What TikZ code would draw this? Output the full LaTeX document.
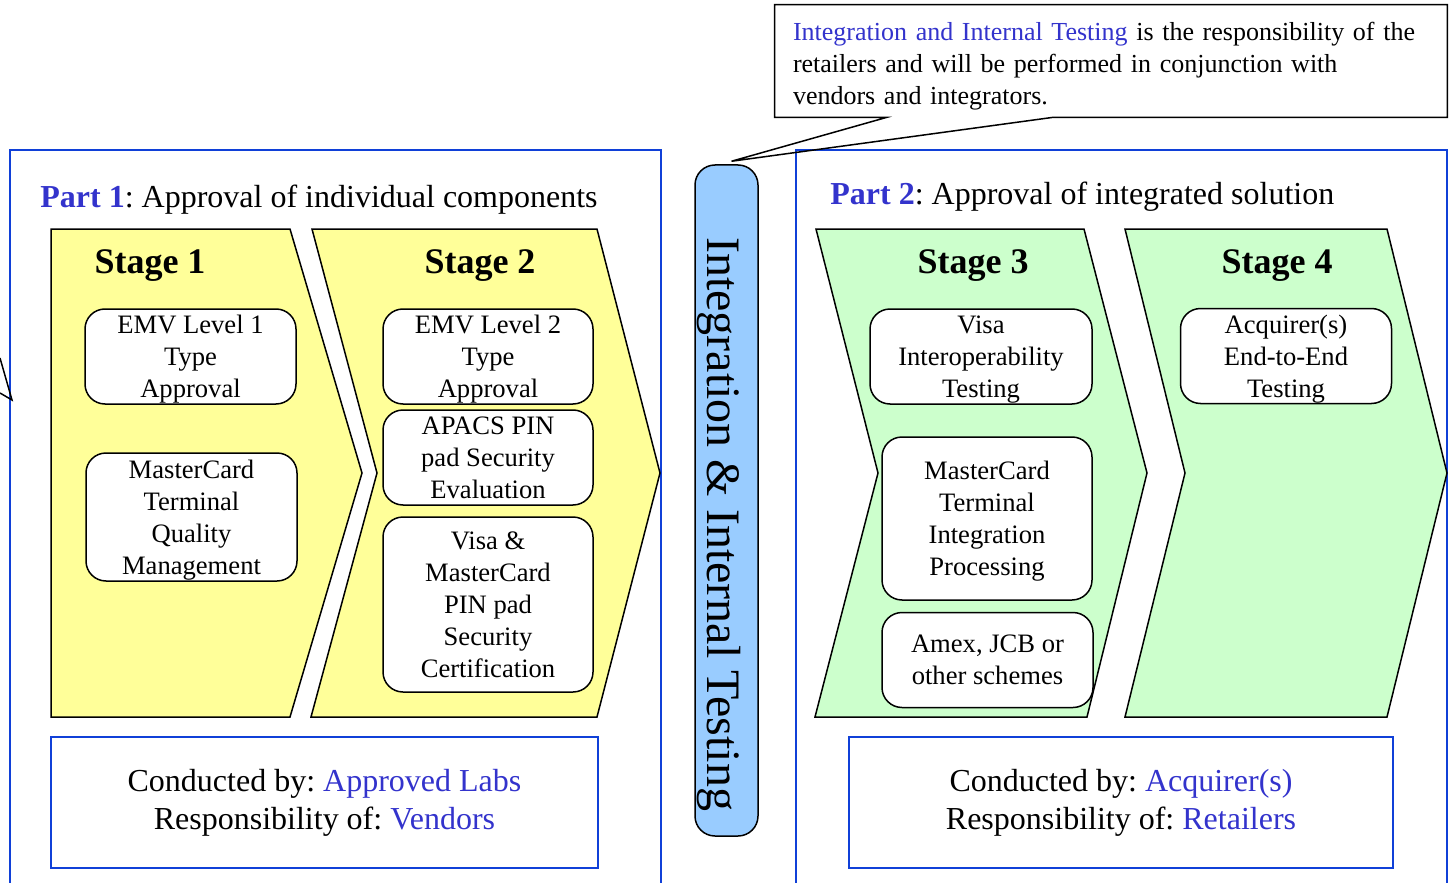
\documentclass[tikz,border=0pt]{standalone}
\usepackage{fontspec}
\setmainfont{Liberation Serif}
\usepackage{tikz}
\usetikzlibrary{positioning, calc}
\frenchspacing
\definecolor{partblue}{RGB}{51,51,204}
\definecolor{boxblue}{RGB}{16,64,216}
\definecolor{paleyellow}{RGB}{255,255,153}
\definecolor{palegreen}{RGB}{204,255,204}
\definecolor{barblue}{RGB}{153,204,255}
\tikzset{
  partbox/.style={draw=boxblue, line width=1pt},
  parttitle/.style={anchor=base west, inner sep=0pt, font=\fontsize{16}{19}\selectfont},
  stagey/.style={draw=black, fill=paleyellow, line width=0.75pt},
  stageg/.style={draw=black, fill=palegreen, line width=0.75pt},
  stagelab/.style={inner sep=0pt, font=\fontsize{18}{21}\selectfont\bfseries},
  comp/.style={draw=black, fill=white, rounded corners=10pt, line width=0.75pt, inner sep=0pt, text depth=0pt, align=center, font=\fontsize{13.3}{16}\selectfont},
  duty/.style={draw=boxblue, line width=1pt, inner sep=0pt, align=center, minimum height=65.5pt, font=\fontsize{16}{19}\selectfont},
  bar/.style={draw=black, fill=barblue, rounded corners=10pt, line width=0.75pt, minimum width=31.5pt, minimum height=335.5pt},
  note/.style={inner sep=0pt, minimum width=336pt, minimum height=56pt, text width=318pt, align=left, font=\fontsize{13}{16}\selectfont},
}
\newcommand{\hl}[1]{\textcolor{partblue}{#1}}

\begin{document}
\begin{tikzpicture}[x=0.5pt, y=-0.5pt, line join=miter]
  \clip (0,0) rectangle (1452,883);

  % ---- the two parts --------------------------------------------------------
  \draw[partbox] (10,150) rectangle (661,900);
  \draw[partbox] (796,150) rectangle (1447,900);
  \node[parttitle] (p1) at (40,207) {\textbf{\hl{Part 1}}: Approval of individual components};
  \node[parttitle] (p2) at (830,205) {\textbf{\hl{Part 2}}: Approval of integrated solution};

  % ---- stage chevrons -------------------------------------------------------
  \draw[stagey] (51,229) -- (290,229) -- (362,473) -- (290,717) -- (51,717) -- cycle;
  \draw[stagey] (312,229) -- (597,229) -- (660,473) -- (597,717) -- (311,717) -- (377,473) -- cycle;
  \draw[stageg] (816,229) -- (1084,229) -- (1147,473) -- (1087,717) -- (815,717) -- (878,473) -- cycle;
  \draw[stageg] (1125,229) -- (1387,229) -- (1447,473) -- (1387,717) -- (1125,717) -- (1185,473) -- cycle;
  \node[stagelab] (s1) at (150,266) {Stage 1};
  \node[stagelab] (s2) at (480,266) {Stage 2};
  \node[stagelab] (s3) at (973,266) {Stage 3};
  \node[stagelab] (s4) at (1277,266) {Stage 4};

  % ---- components -----------------------------------------------------------
  \node[comp, minimum width=105.5pt, minimum height=47.5pt] (emv1) at (190.5,356.5) {EMV Level 1\\Type\\Approval};
  \node[comp, minimum width=105.5pt, minimum height=64pt] (mcq) at (191.5,517) {MasterCard\\Terminal\\Quality\\Management};
  \node[comp, minimum width=105pt, minimum height=47.5pt] (emv2) at (488,356.5) {EMV Level 2\\Type\\Approval};
  \node[comp, minimum width=105pt, minimum height=47.5pt] (apacs) at (488,457.5) {APACS PIN\\pad Security\\Evaluation};
  \node[comp, minimum width=105pt, minimum height=87.5pt] (pinsec) at (488,604.5) {Visa \&\\MasterCard\\PIN pad\\Security\\Certification};
  \node[comp, minimum width=111pt, minimum height=47.5pt] (visa) at (981,356.5) {Visa\\Interoperability\\Testing};
  \node[comp, minimum width=105pt, minimum height=81.5pt] (mcint) at (987,518.5) {MasterCard\\Terminal\\Integration\\Processing};
  \node[comp, minimum width=105.5pt, minimum height=47.5pt] (amex) at (987.5,660) {Amex, JCB or\\other schemes};
  \node[comp, minimum width=105.5pt, minimum height=47.5pt] (acq) at (1286,356) {Acquirer(s)\\End-to-End\\Testing};

  % ---- who does what --------------------------------------------------------
  \node[duty, minimum width=273.5pt] (duty1) at (324.5,802.5) {Conducted by: \hl{Approved Labs}\\Responsibility of: \hl{Vendors}};
  \node[duty, minimum width=272pt] (duty2) at (1121,802.5) {Conducted by: \hl{Acquirer(s)}\\Responsibility of: \hl{Retailers}};

  % ---- integration bar and callout ------------------------------------------
  \node[bar] (itbar) at (726.5,500.5) {};
  \node[rotate=-90, inner sep=0pt, font=\fontsize{24}{28}\selectfont] (itlab) at (719,524) {Integration \& Internal Testing};
  \node[note] (note) at (1111,61) {\rule{0pt}{14pt}\hl{Integration and Internal Testing} is the responsibility of the\\retailers and will be performed in conjunction with\\vendors and integrators.};
  \coordinate (tip) at ($(itbar.north)+(5,-3)$);
  \coordinate (pa) at ($(note.south west)+(112,0)$);
  \coordinate (pb) at ($(note.south west)+(278,0)$);
  \draw[line width=0.75pt] (pa) -- (note.south west) -- (note.north west) -- (note.north east)
    -- (note.south east) -- (pb) -- (tip) -- cycle;
  \draw[line width=0.75pt] (0,358) -- (12,400) -- (0,393);
\end{tikzpicture}
\end{document}
